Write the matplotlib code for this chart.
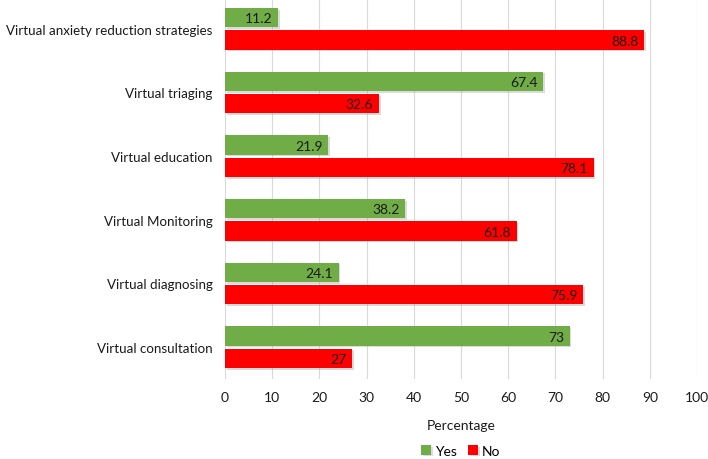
import matplotlib.pyplot as plt
import matplotlib.patheffects as pe
import numpy as np

plt.rcParams['font.family'] = ['Lato', 'DejaVu Sans']

categories = ['Virtual anxiety reduction strategies', 'Virtual triaging', 'Virtual education',
              'Virtual Monitoring', 'Virtual diagnosing', 'Virtual consultation']
yes_vals = [11.2, 67.4, 21.9, 38.2, 24.1, 73]
no_vals = [88.8, 32.6, 78.1, 61.8, 75.9, 27]
yes_labels = ['11.2', '67.4', '21.9', '38.2', '24.1', '73']
no_labels = ['88.8', '32.6', '78.1', '61.8', '75.9', '27']

green = '#70AD47'
red = '#FF0000'

fig = plt.figure(figsize=(7.08, 4.6), dpi=100)
ax = fig.add_axes([225 / 708, 1 - 380 / 460, 472 / 708, 382 / 460])

y = np.arange(len(categories))
h = 0.3
off = 0.175
shadow = [pe.SimplePatchShadow(offset=(1.2, -1.2), shadow_rgbFace='#999999', alpha=0.35), pe.Normal()]

b1 = ax.barh(y - off, yes_vals, height=h, color=green, label='Yes', zorder=3, path_effects=shadow)
b2 = ax.barh(y + off, no_vals, height=h, color=red, label='No', zorder=3, path_effects=shadow)

for bars, labs in ((b1, yes_labels), (b2, no_labels)):
    for bar, lab in zip(bars, labs):
        ax.text(bar.get_width() - 1.2, bar.get_y() + bar.get_height() / 2 + 0.01, lab,
                ha='right', va='center', fontsize=10, color='#1a1a1a', zorder=4)

ax.set_xlim(0, 100)
ax.set_ylim(len(categories) - 0.5, -0.5)
ax.set_xticks(range(0, 101, 10))
ax.set_yticks(y)
ax.set_yticklabels(categories, fontsize=9.6, color='#1a1a1a')
ax.tick_params(axis='x', labelsize=10, colors='#1a1a1a', length=0, pad=9)
ax.tick_params(axis='y', length=0, pad=9)
ax.grid(axis='x', color='#d9d9d9', linewidth=0.8, zorder=0)
for s in ax.spines.values():
    s.set_visible(False)

ax.set_xlabel('Percentage', fontsize=10, color='#1a1a1a', labelpad=11)
ax.legend(loc='center', bbox_to_anchor=(0.5, -0.188), ncol=2, frameon=False,
          fontsize=10, handlelength=0.7, handleheight=0.7, handletextpad=0.3,
          columnspacing=0.8, borderpad=0.1)

fig.savefig('out.png', dpi=100)
